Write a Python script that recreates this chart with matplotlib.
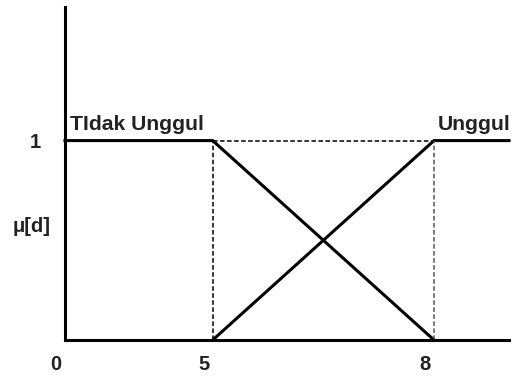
import numpy as np
import matplotlib
matplotlib.use("Agg")
import matplotlib.pyplot as plt
from matplotlib.transforms import ScaledTranslation

# Membership functions for the variable d
x_ticks = [0, 5, 8]
tick_labels = ["0", "5", "8"]
x_tidak = [0, 5, 8]
mu_tidak = [1, 1, 0]
x_unggul = [5, 8, 9]
mu_unggul = [0, 1, 1]
label_tidak = "TIdak Unggul"
label_unggul = "Unggul"
y_label = "μ[d]"

plt.rcParams["font.family"] = ["Liberation Sans", "DejaVu Sans"]

fig = plt.figure(figsize=(5.18, 3.76), dpi=100)
ax = fig.add_axes([65 / 518, 36 / 376, 444 / 518, 333 / 376])

# piecewise-linear horizontal scale (segments are drawn at different widths)
knots = [0, 5, 8, 9]
pos = [0, 147.7, 369, 444]
ax.set_xscale("function",
              functions=(lambda v: np.interp(v, knots, pos),
                         lambda p: np.interp(p, pos, knots)))
ax.set_xlim(0, 9)
ax.set_ylim(0, 1.67)

lw = 2.2
ax.plot(x_tidak, mu_tidak, color="black", lw=lw, solid_joinstyle="miter",
        clip_on=False)
ax.plot(x_unggul, mu_unggul, color="black", lw=lw, solid_joinstyle="miter",
        clip_on=False)

# guide lines at the breakpoints
dash = (0, (3.0, 1.6))
ax.plot([5, 8], [1, 1], color="black", lw=1.1, ls=dash)
ax.plot([5, 5], [0, 1], color="black", lw=1.1, ls=dash)
ax.plot([8, 8], [0, 1], color="#555555", lw=1.1, ls=dash)

for side in ("top", "right"):
    ax.spines[side].set_visible(False)
for side in ("left", "bottom"):
    ax.spines[side].set_linewidth(lw)
    ax.spines[side].set_color("black")

txt = dict(fontsize=15.2, fontweight="bold", color="#222222")
tick_txt = dict(fontsize=14.5, fontweight="bold", color="#222222")

ax.set_xticks(x_ticks, tick_labels, **tick_txt)
ax.set_yticks([1], ["1"], **tick_txt)
ax.tick_params(length=0)
ax.tick_params(axis="x", pad=10.5)
ax.tick_params(axis="y", pad=17.3)
shift = ScaledTranslation(-9 / 100, 0, fig.dpi_scale_trans)
for lab in ax.get_xticklabels():
    lab.set_transform(lab.get_transform() + shift)

ax.set_ylabel(y_label, rotation=0, ha="center", va="center", **tick_txt)
ax.yaxis.set_label_coords(-33 / 444, 0.567 / 1.67)

ax.annotate(label_tidak, xy=(0, 1), xytext=(5, 10.5),
            textcoords="offset pixels", ha="left", va="baseline", **txt)
ax.annotate(label_unggul, xy=(8, 1), xytext=(4, 10.5),
            textcoords="offset pixels", ha="left", va="baseline", **txt)

fig.savefig("out.png", dpi=100)
